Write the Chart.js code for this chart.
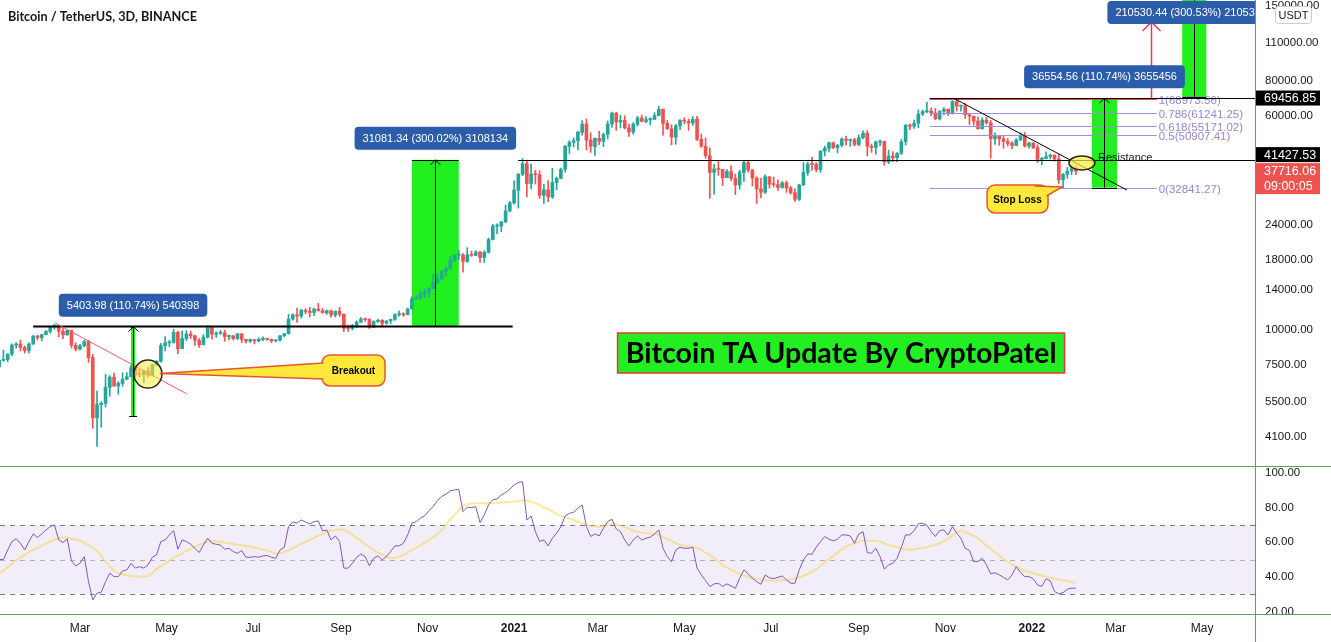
<!DOCTYPE html>
<html>
<head>
<meta charset="utf-8">
<script src="https://cdn.jsdelivr.net/npm/chart.js@4.4.1/dist/chart.umd.min.js"></script>
<style>
html, body { margin: 0; padding: 0; background: #fff; }
canvas { display: block; }
</style>
</head>
<body>
<canvas id="chart" width="1331" height="642"></canvas>
<script>
// days are counted from 1 Jan 2020, one candle every 3 days
const firstCandleDay = 3
const candleStep = 3
const firstOpen = 7350

const closes = [
  7760, 7810, 8180, 8820, 8900, 8640, 8430, 8900, 9510, 9380,
  9620, 9880, 10250, 10360, 9900, 9600, 9960, 8800, 8530, 8760,
  9070, 7940, 4800, 5360, 5420, 6200, 6740, 6260, 6400, 6630,
  6770, 7300, 6890, 6870, 7100, 6850, 7480, 7700, 8780, 8980,
  9020, 9810, 8560, 9310, 9670, 9520, 9170, 8840, 9420, 10200,
  9660, 9740, 9770, 9470, 9520, 9300, 9690, 9250, 9110, 9230,
  9130, 9250, 9280, 9240, 9130, 9200, 9530, 9700, 10950, 11350,
  11230, 11780, 11680, 11570, 11910, 11750, 11540, 11750, 11330, 11700,
  11400, 10150, 10130, 10400, 10680, 10950, 10920, 10240, 10730, 10840,
  10580, 10790, 10930, 11380, 11430, 11360, 11920, 12990, 13070, 13460,
  13740, 14130, 14840, 15320, 16300, 16720, 17820, 18690, 18720, 17730,
  18770, 18660, 19170, 18310, 19140, 21300, 23830, 23830, 24700, 27050,
  28920, 32180, 36770, 40160, 34000, 36770, 36620, 30800, 32260, 30400,
  34270, 35500, 38290, 46430, 48000, 48600, 52150, 55900, 48900, 46340,
  49600, 48400, 51200, 55900, 61200, 56900, 57600, 54100, 52300, 55800,
  58800, 57100, 58000, 58100, 60000, 63200, 56200, 53800, 50100, 55000,
  57700, 57200, 56400, 58200, 49200, 46400, 42900, 37300, 38400, 38300,
  35700, 37600, 35500, 33600, 37300, 40500, 38100, 35600, 32500, 31600,
  36000, 33800, 33700, 32900, 34200, 32800, 31500, 29800, 33600, 37300,
  40000, 39900, 38200, 44600, 45600, 47800, 45900, 46800, 49300, 48800,
  49000, 47100, 49900, 51800, 46400, 46000, 48100, 48300, 40700, 42800,
  42200, 43800, 48200, 55300, 54900, 56200, 60800, 62000, 62300, 61300,
  58400, 62200, 63200, 61000, 67500, 64900, 65000, 60400, 59700, 57300,
  53700, 57800, 56500, 49400, 50600, 49400, 48300, 47600, 46700, 48900,
  50800, 46500, 47700, 45900, 41600, 41900, 42600, 43100, 41700, 35100,
  36700, 37700, 38500, 37716
]
const highs = [
  7800, 8450, 8200, 8900, 9000, 9200, 8750, 8980, 9560, 9580,
  9640, 9950, 10250, 10500, 10380, 10250, 10000, 9990, 8980, 8880,
  9170, 9180, 8150, 6000, 5500, 6900, 6830, 6980, 6500, 7000,
  7000, 7450, 7370, 7200, 7170, 7300, 7530, 7750, 8950, 9470,
  9190, 10050, 9900, 9940, 9950, 9900, 9580, 9300, 9620, 10380,
  10230, 9850, 9960, 9990, 9590, 9570, 9700, 9700, 9250, 9270,
  9250, 9380, 9450, 9350, 9280, 9220, 9550, 9700, 11400, 11450,
  12000, 11900, 11950, 12080, 12000, 12480, 12000, 11800, 11800, 11720,
  12090, 11450, 10420, 10480, 10800, 11100, 11050, 10990, 10800, 10950,
  10900, 10800, 10950, 11450, 11720, 11550, 12000, 13230, 13350, 13860,
  14100, 14250, 15970, 15960, 16480, 16880, 18480, 18800, 19420, 18920,
  19900, 19350, 19420, 19300, 19400, 21560, 24200, 24300, 24800, 28400,
  29300, 34800, 36940, 41950, 41350, 40100, 37950, 37850, 33830, 34880,
  38600, 35900, 38700, 46800, 48680, 49700, 52600, 57500, 58350, 52000,
  49800, 52600, 51800, 57400, 61800, 61700, 60100, 59900, 55850, 56600,
  59600, 60200, 59500, 58900, 61500, 64900, 63500, 57600, 55500, 55800,
  58000, 58900, 58300, 59500, 59600, 51400, 49700, 45800, 39900, 40900,
  38300, 38200, 39500, 36800, 38000, 40900, 41300, 38200, 36000, 35500,
  36600, 36000, 35900, 35100, 34600, 34700, 33200, 32500, 33800, 40500,
  40600, 42300, 40500, 44700, 46500, 48100, 48100, 47200, 49800, 50500,
  49300, 49600, 51000, 52800, 52900, 47300, 48500, 48850, 48400, 45000,
  44400, 44000, 49200, 55700, 56000, 57800, 62900, 62900, 67000, 63800,
  63700, 62500, 64300, 63500, 68000, 68980, 65500, 66400, 60900, 59800,
  59400, 58900, 59200, 57600, 51900, 50800, 50400, 49500, 48300, 49500,
  51900, 52100, 48100, 47900, 47000, 42300, 44300, 43500, 43200, 43500,
  37000, 38900, 38700, 39300
]
const lows = [
  7300, 7700, 7670, 8050, 8600, 8400, 8250, 8240, 8860, 9200,
  9120, 9600, 9750, 10050, 9460, 9300, 9570, 8600, 8400, 8450,
  8700, 7630, 4400, 3780, 4440, 5250, 5750, 6240, 5850, 6250,
  6600, 6770, 6750, 6760, 6460, 6750, 6800, 7430, 7650, 8400,
  8700, 8960, 8200, 8550, 9150, 9300, 8800, 8650, 8830, 9350,
  9270, 9400, 9620, 9100, 9200, 9200, 9240, 9000, 8950, 9000,
  8900, 9050, 9150, 9180, 9000, 9050, 9110, 9450, 9650, 10850,
  10650, 11050, 11450, 11150, 11280, 11700, 11530, 11400, 11120, 11150,
  11200, 9870, 9880, 10000, 10200, 10650, 10750, 10130, 10200, 10650,
  10370, 10500, 10530, 10830, 11220, 11200, 11340, 11900, 12900, 12900,
  13100, 13220, 14100, 14800, 15250, 15700, 16600, 17700, 17970, 16200,
  17600, 18500, 18600, 17600, 17570, 19000, 21200, 22350, 22700, 24500,
  26800, 28600, 27700, 36300, 30400, 32500, 33850, 30000, 28800, 29240,
  30000, 32300, 35360, 37350, 43700, 46200, 45000, 50900, 45000, 44100,
  43000, 47000, 46300, 49300, 54300, 53050, 54100, 53650, 50400, 51300,
  54900, 56900, 56500, 55500, 58000, 59800, 50900, 53400, 47000, 47200,
  53300, 56000, 53000, 55300, 48600, 46000, 42000, 30000, 31100, 36400,
  33400, 35700, 34800, 31000, 32400, 34600, 37400, 33300, 28800, 30200,
  31300, 32700, 33000, 32100, 32700, 31600, 31100, 29300, 29500, 33400,
  36400, 38000, 37500, 37300, 42800, 44300, 45500, 43900, 46200, 46800,
  46400, 46500, 46600, 49400, 42800, 44100, 43400, 46700, 39600, 40100,
  40800, 40800, 43300, 46900, 53300, 53900, 54200, 59900, 61400, 59900,
  58000, 57800, 60300, 60100, 60700, 62300, 62300, 58600, 55700, 55300,
  53600, 53600, 55900, 42000, 47100, 46800, 45700, 46500, 45500, 46700,
  48800, 46100, 45700, 45500, 40500, 39700, 41800, 41700, 41000, 34000,
  32840, 35500, 36600, 36600
]

// RSI (14) and its moving average, one value per candle
const rsiValues = [
  50, 50, 55.5, 60.4, 62, 59.4, 55.5, 60.4, 64.8, 62.7,
  64.8, 67.1, 69, 70, 61.3, 59.8, 61.9, 49.2, 46.3, 47.8,
  51.7, 37.2, 26.6, 30.5, 31.1, 37.2, 42.1, 40.1, 40.1, 43.4,
  44, 47.8, 45, 45.9, 45, 46.9, 51.3, 52.7, 60.4, 61.3,
  64.2, 66.7, 55.9, 61.3, 60.4, 58.8, 56.5, 54, 58.4, 62.3,
  59.4, 58.8, 58.4, 55.9, 56.5, 54.6, 53.6, 55.2, 51.3, 51.3,
  51.7, 51.3, 52.1, 52.3, 51.3, 50.7, 55.5, 57.1, 69, 71.7,
  71, 72.9, 71.7, 70.6, 71.9, 72.3, 66.5, 67.1, 61.3, 63.6,
  60.4, 45, 45, 47.8, 51.3, 53.2, 51.7, 46.3, 50.7, 52.1,
  49.8, 51.7, 54.6, 57.9, 57.9, 59.4, 64.2, 71, 71.9, 73.9,
  75.2, 78.3, 80.6, 84.1, 86.4, 87.7, 89.8, 90.2, 90.6, 77.7,
  80.2, 80, 80.6, 71.3, 75.8, 81.6, 84.5, 85, 87.3, 88.7,
  90.6, 93.1, 94.5, 95, 72.9, 75.2, 66.1, 60.4, 61.3, 57.9,
  62.3, 65.2, 69, 75.2, 76.7, 77.3, 79.6, 81.6, 69, 63.3,
  64.8, 63.6, 68.1, 71.9, 73.3, 67.7, 66.1, 61.3, 57.9, 61.3,
  63.6, 61.3, 62.3, 62.9, 64.8, 67.1, 56.5, 51.7, 48.8, 55.5,
  57.1, 56.5, 56.5, 57.1, 45, 41.1, 37.8, 34.4, 35.9, 36.3,
  34.4, 35.9, 34.7, 33.4, 39.2, 44, 41.7, 39.2, 37.2, 35.7,
  41.1, 39.4, 39, 39.7, 40.5, 38.2, 36.3, 36.3, 44, 49.8,
  53.2, 53, 57.1, 60.4, 63.3, 61.7, 60.8, 61.7, 64.2, 64.2,
  63.6, 59.4, 64.8, 66.1, 54, 53.6, 56.5, 51.7, 44.4, 46.9,
  47.8, 50.7, 57.1, 64.2, 64.2, 66.7, 70.6, 71, 69.8, 66.1,
  63.3, 66.7, 67.1, 64.2, 69, 65.2, 62.3, 56.5, 55.2, 48.8,
  48.8, 50.7, 46.9, 41.7, 42.4, 41.1, 39.7, 38.2, 41.1, 45.9,
  42.4, 40.1, 40.1, 38.8, 35.3, 34.4, 38.8, 37.6, 31.5, 30.1,
  30.9, 32.8, 33.4, 33.4
]
const rsiAverage = [
  42.1, 43.6, 45.5, 47.5, 49.4, 51.1, 52.7, 54.2, 55.5, 56.7,
  58.1, 59.2, 60.4, 61.3, 62.3, 62.9, 62.7, 62.1, 61.7, 60.8,
  59.8, 58.4, 56.7, 55.2, 52.1, 48.8, 45.9, 43.4, 42.1, 41.3,
  40.9, 40.5, 40.3, 40.1, 40.3, 40.5, 42.1, 44.6, 46.3, 47.8,
  49.4, 50.9, 52.3, 53.6, 55, 56.1, 57.5, 58.4, 59.4, 60.2,
  60.8, 60.6, 60.2, 59.8, 59.4, 59, 58.6, 58.2, 57.9, 57.5,
  56.9, 56.3, 55.7, 55.2, 54.4, 53.4, 53.6, 54.4, 55.2, 56.5,
  57.9, 59, 60.2, 61.3, 62.7, 63.8, 64.8, 66, 66.7, 67.1,
  67.5, 67.1, 65.8, 64.2, 62.3, 60.9, 58.8, 57.1, 55.5, 54,
  52.9, 51.7, 50.7, 50.9, 51.7, 52.7, 54, 55.5, 56.9, 58.2,
  59.8, 61.3, 62.9, 64.8, 67.1, 70, 73.3, 75.8, 78.3, 81,
  82, 82.3, 82.5, 82.5, 82.5, 82.5, 82.5, 82.7, 82.9, 83.1,
  83.3, 83.5, 83.7, 84.3, 84.1, 83.3, 82.5, 81.6, 80.2, 79.1,
  77.7, 76.4, 75.2, 74.4, 73.7, 72.9, 71.7, 71, 70, 69.4,
  69.2, 69, 69.6, 70.2, 70.6, 70.2, 69.6, 68.7, 67.7, 66.7,
  66.1, 65.6, 65.2, 65.2, 64.8, 64.4, 62.9, 61.7, 60.6, 59.4,
  58.4, 58.1, 57.7, 57.3, 56.9, 55.5, 54, 52.7, 50.7, 48.8,
  46.9, 45.5, 44, 43, 41.7, 40.7, 40.1, 39.4, 38.8, 38.2,
  38, 37.8, 37.8, 37.8, 38, 38.2, 38.6, 39, 39.6, 40.5,
  41.7, 42.8, 44.4, 46.3, 48.2, 50.2, 52.1, 54, 55.9, 57.5,
  58.6, 59.4, 60.2, 60.9, 60.9, 60.9, 60.9, 60.2, 59.4, 58.2,
  57.9, 57.1, 56.5, 55.9, 55.7, 55.9, 56.3, 56.7, 57.1, 57.9,
  58.6, 59.4, 60.6, 62.1, 63.8, 65.6, 66.7, 66, 64.8, 63.6,
  62.1, 60.2, 57.9, 56.3, 54.4, 52.1, 50.2, 48.6, 47.1, 45.9,
  44.8, 43.6, 42.8, 42.1, 41.3, 40.7, 40.1, 39.4, 39, 38.4,
  38, 37.5, 37, 36.5
]

const tickDays = [60, 121, 182, 244, 305, 366, 425, 486, 547, 609, 670, 731, 790, 851]
const tickLabels = ['Mar', 'May', 'Jul', 'Sep', 'Nov', '2021', 'Mar', 'May', 'Jul', 'Sep', 'Nov', '2022', 'Mar', 'May']
const priceTicks = [4100, 5500, 7500, 10000, 14000, 18000, 24000, 32000, 60000, 80000, 110000, 150000]
const rsiTicks = [20, 40, 60, 80, 100]
const rsiBand = [30, 70]
const rsiGuides = [70, 50, 30]

// drawings on the price pane (day, price)
const moveDays = [[96, 98.8], [294, 327], [773.4, 791], [837, 854]]
const movePrices = [[4880, 10284], [10360, 41441.34], [32841.27, 69395.83], [70053, 280583]]
const moveLabels = ['5403.98 (110.74%) 540398', '31081.34 (300.02%) 3108134', '36554.56 (110.74%) 3655456', '210530.44 (300.53%) 21053044']
const fibRatios = ['1', '0.786', '0.618', '0.5', '0']
const fibPrices = [68973.56, 61241.25, 55171.02, 50907.41, 32841.27]
const fibDays = [659, 819]
const levelPrices = [10300, 41427.53, 69456.85]
const levelStartDays = [27, 368.8, 659]
const levelEndDays = [365, null, null]
const redTrend = [[42.4, 10602], [135.4, 5860]]
const blackTrend = [[677, 68870], [798, 32200]]
const targetArrow = [815.3, 69456.85, 131100]
const lastPrice = 37716.06

const FONT = "'Liberation Sans', Arial, sans-serif"
const UP = '#26a69a'
const DOWN = '#ef5350'
const PANE_LINE = '#5d9e63'

const candleDays = closes.map((c, i) => firstCandleDay + candleStep * i)
const opens = closes.map((c, i) => i === 0 ? firstOpen : closes[i - 1])
const candleColors = closes.map((c, i) => c >= opens[i] ? UP : DOWN)

function fitFont(ctx, text, width, weight, size, family) {
    ctx.font = `${weight} ${size}px ${family}`
    const s = size * width / ctx.measureText(text).width
    ctx.font = `${weight} ${s.toFixed(2)}px ${family}`
}

// no extra room round the panes: they run edge to edge like the original
function noPadding(s) {
    s.paddingTop = 0
    s.paddingBottom = 0
    s.paddingLeft = 0
    s.paddingRight = 0
}

function callout(ctx, cx, cy, w, h, base, tip, text) {
    const bx = cx - w / 2, by = cy - h / 2
    ctx.fillStyle = '#fde83b'
    ctx.strokeStyle = '#e4572e'
    ctx.lineWidth = 1.5
    ctx.beginPath()
    ctx.roundRect(bx, by, w, h, 8)
    ctx.fill()
    ctx.stroke()
    ctx.beginPath()
    ctx.moveTo(base[0][0], base[0][1])
    ctx.lineTo(tip[0], tip[1])
    ctx.lineTo(base[1][0], base[1][1])
    ctx.closePath()
    ctx.fill()
    ctx.beginPath()
    ctx.moveTo(base[0][0], base[0][1])
    ctx.lineTo(tip[0], tip[1])
    ctx.lineTo(base[1][0], base[1][1])
    ctx.stroke()
    ctx.fillStyle = '#000'
    ctx.font = `bold 10px ${FONT}`
    ctx.textAlign = 'center'
    ctx.textBaseline = 'middle'
    ctx.fillText(text, cx, cy + 1)
}

function arrowUp(ctx, x, yTop, yBottom, color, head) {
    ctx.strokeStyle = color
    ctx.beginPath()
    ctx.moveTo(x, yBottom)
    ctx.lineTo(x, yTop)
    ctx.moveTo(x - head, yTop + head)
    ctx.lineTo(x, yTop)
    ctx.lineTo(x + head, yTop + head)
    ctx.stroke()
}

const drawings = {
    id: 'drawings',
    beforeDatasetsDraw(chart) {
        const { ctx, chartArea: area } = chart
        const x = chart.scales.x, y = chart.scales.y, r = chart.scales.rsi
        ctx.save()
        const bandTop = r.getPixelForValue(rsiBand[1])
        const bandBottom = r.getPixelForValue(rsiBand[0])
        ctx.fillStyle = 'rgba(126,87,194,0.1)'
        ctx.fillRect(area.left, bandTop, area.right - area.left, bandBottom - bandTop)
        ctx.lineWidth = 1
        ctx.setLineDash([5, 5])
        rsiGuides.forEach(v => {
            ctx.strokeStyle = v === 50 ? 'rgba(120,123,134,0.55)' : '#787b86'
            const yy = Math.round(r.getPixelForValue(v)) + 0.5
            ctx.beginPath()
            ctx.moveTo(area.left, yy)
            ctx.lineTo(area.right, yy)
            ctx.stroke()
        })
        ctx.restore()

        // green measured-move boxes
        ctx.save()
        ctx.beginPath()
        ctx.rect(area.left, y.top, area.right - area.left, y.bottom - y.top)
        ctx.clip()
        moveDays.forEach((d, i) => {
            const x0 = x.getPixelForValue(d[0]), x1 = x.getPixelForValue(d[1])
            const y0 = y.getPixelForValue(movePrices[i][0]), y1 = y.getPixelForValue(movePrices[i][1])
            ctx.fillStyle = '#1fef1f'
            ctx.fillRect(x0, y1, x1 - x0, y0 - y1)
        })
        ctx.restore()
    },
    afterDatasetsDraw(chart) {
        const { ctx, chartArea: area } = chart
        const x = chart.scales.x, y = chart.scales.y
        const px = d => x.getPixelForValue(d)
        const py = p => y.getPixelForValue(p)
        ctx.save()
        ctx.beginPath()
        ctx.rect(area.left, y.top, area.right - area.left, y.bottom - y.top)
        ctx.clip()

        // fibonacci retracement
        const fx0 = px(fibDays[0]), fx1 = px(fibDays[1])
        ctx.lineWidth = 1
        fibPrices.forEach((p, i) => {
            const yy = Math.round(py(p)) + 0.5
            ctx.strokeStyle = i === 0 ? '#e0455a' : '#a08fd6'
            ctx.beginPath()
            ctx.moveTo(fx0, yy)
            ctx.lineTo(fx1, yy)
            ctx.stroke()
            ctx.fillStyle = '#9686cf'
            ctx.font = `11.5px ${FONT}`
            ctx.textAlign = 'left'
            ctx.textBaseline = 'middle'
            ctx.fillText(`${fibRatios[i]}(${p.toFixed(2)})`, fx1 + 2, yy + 1)
        })

        // horizontal levels
        levelPrices.forEach((p, i) => {
            const yy = Math.round(py(p)) + 0.5
            ctx.strokeStyle = '#000'
            ctx.lineWidth = i === 0 ? 2 : 1
            ctx.beginPath()
            ctx.moveTo(px(levelStartDays[i]), yy)
            ctx.lineTo(levelEndDays[i] === null ? area.right : px(levelEndDays[i]), yy)
            ctx.stroke()
        })
        ctx.strokeStyle = '#e0455a'
        ctx.beginPath()
        ctx.moveTo(fx0, Math.round(py(fibPrices[0])) + 0.5)
        ctx.lineTo(px(760), Math.round(py(fibPrices[0])) + 0.5)
        ctx.stroke()

        // trend lines
        ctx.lineWidth = 1
        ctx.strokeStyle = '#f05a6a'
        ctx.beginPath()
        ctx.moveTo(px(redTrend[0][0]), py(redTrend[0][1]))
        ctx.lineTo(px(redTrend[1][0]), py(redTrend[1][1]))
        ctx.stroke()
        ctx.strokeStyle = '#000'
        ctx.beginPath()
        ctx.moveTo(px(blackTrend[0][0]), py(blackTrend[0][1]))
        ctx.lineTo(px(blackTrend[1][0]), py(blackTrend[1][1]))
        ctx.stroke()

        // arrows and edges of the measured moves
        moveDays.forEach((d, i) => {
            const x0 = px(d[0]), x1 = px(d[1]), xc = Math.round((x0 + x1) / 2) + 0.5
            const y0 = py(movePrices[i][0]), y1 = py(movePrices[i][1])
            ctx.lineWidth = 1
            ctx.strokeStyle = '#000'
            ctx.beginPath()
            ctx.moveTo(x0 - (i === 0 ? 2 : 0), Math.round(y0) + 0.5)
            ctx.lineTo(x1 + (i === 0 ? 2 : 0), Math.round(y0) + 0.5)
            ctx.moveTo(x0, Math.round(y1) + 0.5)
            ctx.lineTo(x1, Math.round(y1) + 0.5)
            ctx.stroke()
            arrowUp(ctx, xc, y1, y0, '#000', 5)
        })
        ctx.lineWidth = 1.5
        arrowUp(ctx, Math.round(px(targetArrow[0])) + 0.5, py(targetArrow[2]), py(targetArrow[1]), '#f23645', 9)

        // highlighted zones
        ctx.lineWidth = 1.5
        ctx.strokeStyle = '#262626'
        ctx.fillStyle = 'rgba(255,235,59,0.55)'
        ctx.beginPath()
        ctx.arc(px(107.9), py(6922), 14, 0, Math.PI * 2)
        ctx.fill()
        ctx.stroke()
        ctx.fillStyle = 'rgba(255,235,59,0.7)'
        ctx.beginPath()
        ctx.ellipse(px(766.3), py(40370), 13, 7, 0, 0, Math.PI * 2)
        ctx.fill()
        ctx.stroke()

        ctx.fillStyle = '#131722'
        ctx.font = `11px ${FONT}`
        ctx.textAlign = 'left'
        ctx.textBaseline = 'middle'
        ctx.fillText('Resistance', px(777.6), py(42090))

        // callouts
        const bx = px(252.8), by = py(7130)
        callout(ctx, bx, by, 63, 31, [[bx - 30, by - 7.5], [bx - 30, by + 8.5]], [px(116.4), py(6950)], 'Breakout')
        const sx = px(720.9), sy = py(29880)
        callout(ctx, sx, sy, 61, 28, [[sx + 17, sy - 13], [sx + 29, sy - 3]], [px(752.3), py(33030)], 'Stop Loss')

        // measured-move labels
        moveDays.forEach((d, i) => {
            const xc = (px(d[0]) + px(d[1])) / 2
            const h = 23
            const top = Math.max(y.top + 1, py(movePrices[i][1]) - 10 - h)
            ctx.font = `11px ${FONT}`
            const w = ctx.measureText(moveLabels[i]).width + 16
            ctx.fillStyle = '#2c5dab'
            ctx.beginPath()
            ctx.roundRect(xc - w / 2, top, w, h, 4)
            ctx.fill()
            ctx.fillStyle = '#fff'
            ctx.textAlign = 'center'
            ctx.textBaseline = 'middle'
            ctx.fillText(moveLabels[i], xc, top + h / 2 + 0.5)
        })

        // title
        const tx = px(596.5), ty = py(8251)
        ctx.fillStyle = '#22ee22'
        ctx.fillRect(tx - 223.5, ty - 20, 447, 40)
        ctx.strokeStyle = '#e23b3b'
        ctx.lineWidth = 1.5
        ctx.strokeRect(tx - 223.5, ty - 20, 447, 40)
        ctx.fillStyle = '#000'
        fitFont(ctx, 'Bitcoin TA Update By CryptoPatel', 431, 'bold', 25, "Lato, 'Liberation Sans', sans-serif")
        ctx.textAlign = 'center'
        ctx.textBaseline = 'middle'
        ctx.fillText('Bitcoin TA Update By CryptoPatel', tx, ty + 1)
        ctx.restore()
    },
    afterDraw(chart) {
        const { ctx, chartArea: area, width, height } = chart
        const y = chart.scales.y
        ctx.save()
        // the scale column stops at the bottom pane border
        ctx.fillStyle = '#fff'
        ctx.fillRect(area.right + 1, area.bottom + 1, width - area.right, height - area.bottom)

        // pane borders
        ctx.strokeStyle = PANE_LINE
        ctx.lineWidth = 1
        ctx.beginPath()
        ctx.moveTo(0, Math.round(y.bottom) + 0.5)
        ctx.lineTo(width, Math.round(y.bottom) + 0.5)
        ctx.moveTo(0, Math.round(area.bottom) + 0.5)
        ctx.lineTo(width, Math.round(area.bottom) + 0.5)
        ctx.moveTo(Math.round(area.right) + 0.5, 0)
        ctx.lineTo(Math.round(area.right) + 0.5, height)
        ctx.stroke()

        // price labels on the scale
        const ax = Math.round(area.right) + 1
        const boxW = 64
        const lastY = y.getPixelForValue(lastPrice)
        const redTop = lastY - 8
        ctx.textAlign = 'left'
        ctx.textBaseline = 'middle'
        ctx.font = `12.5px ${FONT}`
        ctx.fillStyle = '#ef5350'
        ctx.fillRect(ax, redTop, boxW, 31)
        ctx.fillStyle = '#fff'
        ctx.fillText(lastPrice.toFixed(2), ax + 8, redTop + 8.5)
        ctx.fillText('09:00:05', ax + 8, redTop + 23)
        const levelBoxes = [[levelPrices[2], y.getPixelForValue(levelPrices[2]) - 7.5], [levelPrices[1], redTop - 16]]
        levelBoxes.forEach(([p, top]) => {
            ctx.fillStyle = '#000'
            ctx.fillRect(ax, top, boxW, 15)
            ctx.fillStyle = '#fff'
            ctx.fillText(p.toFixed(2), ax + 8, top + 8)
        })

        // currency badge
        ctx.fillStyle = '#fff'
        ctx.strokeStyle = '#c9ccd3'
        ctx.beginPath()
        ctx.roundRect(1275.5, 6.5, 36, 17, 3)
        ctx.fill()
        ctx.stroke()
        ctx.fillStyle = '#131722'
        ctx.font = `11px ${FONT}`
        ctx.textAlign = 'center'
        ctx.fillText('USDT', 1293.5, 15.5)

        // header
        ctx.textAlign = 'left'
        ctx.fillStyle = '#131722'
        fitFont(ctx, 'Bitcoin / TetherUS, 3D, BINANCE', 189, 'bold', 13, "Lato, 'Liberation Sans', sans-serif")
        ctx.fillText('Bitcoin / TetherUS, 3D, BINANCE', 8, 17)
        ctx.restore()
    }
}

new Chart(document.getElementById('chart'), {
    type: 'bar',
    data: {
        datasets: [
            {
                label: 'Wicks',
                data: candleDays.map((d, i) => ({ x: d, y: [lows[i], highs[i]] })),
                backgroundColor: candleColors,
                barThickness: 1,
                grouped: false,
                yAxisID: 'y',
                order: 2
            },
            {
                label: 'Candles',
                data: candleDays.map((d, i) => ({ x: d, y: [opens[i], closes[i]] })),
                backgroundColor: candleColors,
                barThickness: 3,
                minBarLength: 1,
                grouped: false,
                yAxisID: 'y',
                order: 1
            },
            {
                type: 'line',
                label: 'RSI-based MA',
                data: candleDays.map((d, i) => ({ x: d, y: rsiAverage[i] })),
                borderColor: 'rgba(250,210,60,0.5)',
                borderWidth: 2,
                pointRadius: 0,
                yAxisID: 'rsi',
                order: 4
            },
            {
                type: 'line',
                label: 'RSI',
                data: candleDays.map((d, i) => ({ x: d, y: rsiValues[i] })),
                borderColor: '#7e57c2',
                borderWidth: 1,
                pointRadius: 0,
                yAxisID: 'rsi',
                order: 3
            }
        ]
    },
    options: {
        responsive: false,
        animation: false,
        layout: { padding: 0, autoPadding: false },
        plugins: { legend: { display: false }, tooltip: { enabled: false } },
        scales: {
            x: {
                type: 'linear',
                min: 3.6,
                max: 888.3,
                offset: false,
                grid: { display: false, offset: false, drawTicks: false },
                border: { display: false },
                afterBuildTicks: s => { s.ticks = tickDays.map(v => ({ value: v })) },
                afterFit: s => { s.height = 28; noPadding(s) },
                ticks: {
                    autoSkip: false,
                    maxRotation: 0,
                    padding: 7,
                    color: '#131722',
                    callback: v => tickLabels[tickDays.indexOf(v)],
                    font: c => ({
                        family: FONT,
                        size: 12,
                        weight: /^\d+$/.test(tickLabels[tickDays.indexOf(c.tick && c.tick.value)] || '') ? 'bold' : 'normal'
                    })
                }
            },
            y: {
                type: 'logarithmic',
                position: 'right',
                stack: 'panes',
                stackWeight: 466,
                min: 3210,
                max: 157560,
                grid: { display: false, drawTicks: false },
                border: { display: false },
                afterBuildTicks: s => { s.ticks = priceTicks.map(v => ({ value: v })) },
                afterFit: s => { s.width = 76; noPadding(s) },
                ticks: {
                    autoSkip: false,
                    padding: 10,
                    color: '#131722',
                    font: { family: FONT, size: 11.5 },
                    callback: v => Number(v).toFixed(2)
                }
            },
            rsi: {
                type: 'linear',
                position: 'right',
                stack: 'panes',
                stackWeight: 148,
                min: 18.5,
                max: 104.05,
                grid: { display: false, drawTicks: false },
                border: { display: false },
                afterBuildTicks: s => { s.ticks = rsiTicks.map(v => ({ value: v })) },
                afterFit: s => { s.width = 76; noPadding(s) },
                ticks: {
                    autoSkip: false,
                    padding: 10,
                    color: '#131722',
                    font: { family: FONT, size: 11.5 },
                    callback: v => Number(v).toFixed(2)
                }
            }
        }
    },
    plugins: [drawings]
})
</script>
</body>
</html>
